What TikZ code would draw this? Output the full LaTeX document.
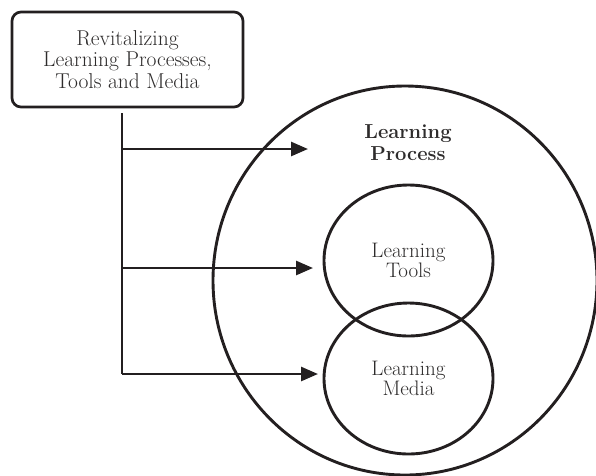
\documentclass[tikz,border=0pt]{standalone}
\usetikzlibrary{arrows.meta,shapes.geometric}
\definecolor{ink}{HTML}{231F20}
\definecolor{txt}{HTML}{2E2C2C}
\begin{document}
\begin{tikzpicture}[x=1pt,y=-1pt,
  line/.style={draw=ink,line width=2.7pt},
  arr/.style={line,-{Triangle[length=17pt,width=14pt]}},
  ring/.style={ellipse,draw=ink,line width=2.9pt,inner sep=0pt},
  lbl/.style={text=txt,align=center,font=\fontsize{21}{19.5}\selectfont}]
\useasboundingbox (0,0) rectangle (596,475);
\node[draw=ink,line width=2.7pt,rounded corners=9pt,minimum width=231pt,minimum height=95pt,
  text=txt,align=center,font=\fontsize{21.5}{21.5}\selectfont] (src) at (127.5,59.5)
  {Revitalizing\\Learning Processes,\\Tools and Media};
\node[ring,minimum width=384pt,minimum height=389pt] (proc) at (405,280.5) {};
\node[ring,minimum width=169pt,minimum height=151pt] (tools) at (408.5,260.5) {};
\node[ring,minimum width=169pt,minimum height=151pt] (media) at (408.5,378.5) {};
\node[text=txt,align=center,font=\fontsize{20.2}{22}\selectfont\bfseries] (ptxt) at (408,143) {Learning\\Process};
\node[lbl] (ttxt) at (408.5,260.5) {Learning\\Tools};
\node[lbl] (mtxt) at (408.5,378.5) {Learning\\Media};
\coordinate (top) at (122,113);
\coordinate (b1) at (122,149);
\coordinate (b2) at (122,268);
\coordinate (b3) at (122,374);
\coordinate (e1) at (308,149);
\coordinate (e2) at (313,268);
\coordinate (e3) at (318,374);
\draw[line] (top) -- (b3);
\draw[arr] (b1) -- (e1);
\draw[arr] (b2) -- (e2);
\draw[arr] (b3) -- (e3);
\end{tikzpicture}
\end{document}
